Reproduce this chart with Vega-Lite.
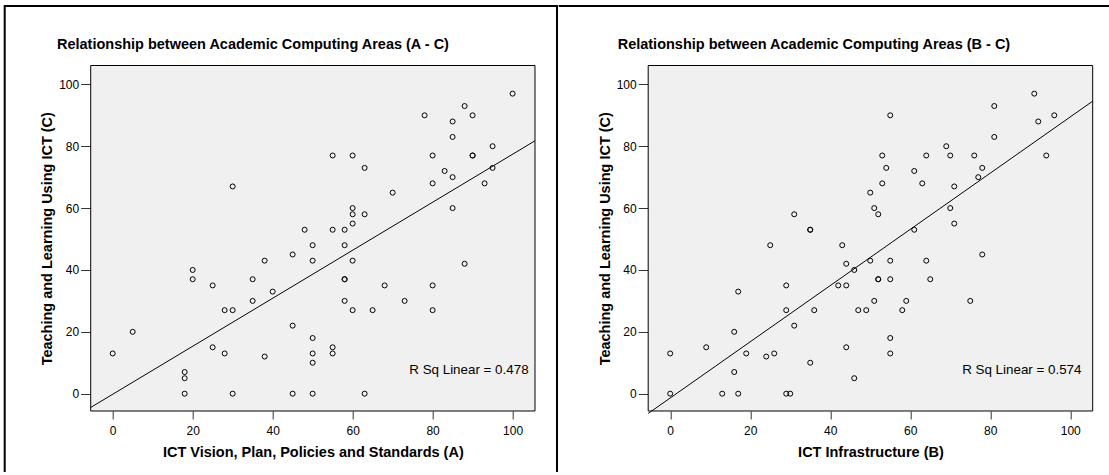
{
  "$schema": "https://vega.github.io/schema/vega-lite/v6.json",
  "background": "white",
  "autosize": {"type": "pad"},
  "padding": {"left": 3.7, "top": 5, "right": 0, "bottom": 0},
  "spacing": -2,
  "config": {
    "view": {"stroke": "black", "strokeWidth": 2, "fill": "white"},
    "font": "Liberation Sans"
  },
  "datasets": {
    "ac": [
      {"A":0,"C":13},{"A":5,"C":20},{"A":18,"C":7},{"A":18,"C":5},{"A":18,"C":0},{"A":20,"C":40},{"A":20,"C":37},{"A":25,"C":35},{"A":25,"C":15},{"A":28,"C":27},
      {"A":28,"C":13},{"A":30,"C":67},{"A":30,"C":27},{"A":30,"C":0},{"A":35,"C":37},{"A":35,"C":30},{"A":38,"C":43},{"A":38,"C":12},{"A":40,"C":33},{"A":45,"C":45},
      {"A":45,"C":22},{"A":45,"C":0},{"A":48,"C":53},{"A":50,"C":48},{"A":50,"C":43},{"A":50,"C":18},{"A":50,"C":13},{"A":50,"C":10},{"A":50,"C":0},{"A":55,"C":77},
      {"A":55,"C":53},{"A":55,"C":15},{"A":55,"C":13},{"A":58,"C":53},{"A":58,"C":48},{"A":58,"C":37},{"A":58,"C":37},{"A":58,"C":30},{"A":60,"C":77},{"A":60,"C":60},
      {"A":60,"C":58},{"A":60,"C":55},{"A":60,"C":43},{"A":60,"C":27},{"A":63,"C":73},{"A":63,"C":58},{"A":63,"C":0},{"A":65,"C":27},{"A":68,"C":35},{"A":70,"C":65},
      {"A":73,"C":30},{"A":78,"C":90},{"A":80,"C":77},{"A":80,"C":68},{"A":80,"C":35},{"A":80,"C":27},{"A":83,"C":72},{"A":85,"C":88},{"A":85,"C":83},{"A":85,"C":70},
      {"A":85,"C":60},{"A":88,"C":93},{"A":88,"C":42},{"A":90,"C":90},{"A":90,"C":77},{"A":90,"C":77},{"A":93,"C":68},{"A":95,"C":80},{"A":95,"C":73},{"A":100,"C":97}
    ],
    "bc": [
      {"B":0,"C":13},{"B":0,"C":0},{"B":9,"C":15},{"B":13,"C":0},{"B":16,"C":20},{"B":16,"C":7},{"B":17,"C":33},{"B":17,"C":0},{"B":19,"C":13},{"B":24,"C":12},
      {"B":25,"C":48},{"B":26,"C":13},{"B":29,"C":35},{"B":29,"C":27},{"B":29,"C":0},{"B":30,"C":0},{"B":31,"C":58},{"B":31,"C":22},{"B":35,"C":53},{"B":35,"C":53},
      {"B":35,"C":10},{"B":36,"C":27},{"B":42,"C":35},{"B":43,"C":48},{"B":44,"C":42},{"B":44,"C":35},{"B":44,"C":15},{"B":46,"C":40},{"B":46,"C":5},{"B":47,"C":27},
      {"B":49,"C":27},{"B":50,"C":65},{"B":50,"C":43},{"B":51,"C":60},{"B":51,"C":30},{"B":52,"C":58},{"B":52,"C":37},{"B":52,"C":37},{"B":53,"C":77},{"B":53,"C":68},
      {"B":54,"C":73},{"B":55,"C":90},{"B":55,"C":43},{"B":55,"C":37},{"B":55,"C":18},{"B":55,"C":13},{"B":58,"C":27},{"B":59,"C":30},{"B":61,"C":72},{"B":61,"C":53},
      {"B":63,"C":68},{"B":64,"C":77},{"B":64,"C":43},{"B":65,"C":37},{"B":69,"C":80},{"B":70,"C":77},{"B":70,"C":60},{"B":71,"C":67},{"B":71,"C":55},{"B":75,"C":30},
      {"B":76,"C":77},{"B":77,"C":70},{"B":78,"C":73},{"B":78,"C":45},{"B":81,"C":93},{"B":81,"C":83},{"B":91,"C":97},{"B":92,"C":88},{"B":94,"C":77},{"B":96,"C":90}
    ]
  },
  "hconcat": [
    {
      "width": 552.3,
      "height": 466,
      "view": {"stroke": "black", "strokeWidth": 2, "fill": "white", "strokeDash": [1018.3, 552.3, 1000]},
      "title": {"text": "Relationship between Academic Computing Areas (A - C)", "anchor": "start", "frame": "group", "orient": "top", "offset": 0, "baseline": "alphabetic", "dx": 52.3, "dy": 57, "fontSize": 14.5, "fontWeight": "bold", "font": "Liberation Sans", "color": "black"},
      "data": {"name": "ac"},
      "layer": [
        {
          "data": {"values": [{}]},
          "mark": {"type": "rect", "fill": "#f0f0f0", "stroke": "black", "strokeWidth": 1},
          "encoding": {
            "x": {"datum": -5.5, "type": "quantitative", "scale": {"domain": [-5.5, 105.6], "range": [86, 530.3], "nice": false, "zero": false}},
            "x2": {"datum": 105.6},
            "y": {"datum": -5.6, "type": "quantitative", "scale": {"domain": [-5.6, 106.1], "range": [405, 59.5], "nice": false, "zero": false}},
            "y2": {"datum": 106.1}
          }
        },
        {
          "mark": {"type": "point", "shape": "circle", "filled": false, "stroke": "black", "strokeWidth": 1, "size": 25, "opacity": 1},
          "encoding": {
            "x": {"field": "A", "type": "quantitative", "scale": {"domain": [-5.5, 105.6], "range": [86, 530.3], "nice": false, "zero": false},
              "axis": {"title": "ICT Vision, Plan, Policies and Standards (A)", "values": [0, 20, 40, 60, 80, 100], "offset": -61, "domain": false, "grid": false, "tickSize": 8, "tickColor": "#333333", "tickWidth": 1, "labelFlush": false, "labelFont": "Liberation Sans", "labelFontSize": 12, "labelColor": "black", "labelPadding": 7, "titleFont": "Liberation Sans", "titleFontSize": 14.5, "titleFontWeight": "bold", "titleColor": "black", "titlePadding": 9}},
            "y": {"field": "C", "type": "quantitative", "scale": {"domain": [-5.6, 106.1], "range": [405, 59.5], "nice": false, "zero": false},
              "axis": {"title": "Teaching and Learning Using ICT (C)", "values": [0, 20, 40, 60, 80, 100], "offset": -86, "domain": false, "grid": false, "tickSize": 10, "tickColor": "#333333", "tickWidth": 1, "labelFlush": false, "labelFont": "Liberation Sans", "labelFontSize": 12, "labelColor": "black", "labelPadding": 2, "titleFont": "Liberation Sans", "titleFontSize": 14.5, "titleFontWeight": "bold", "titleColor": "black", "titlePadding": 4}}
          }
        },
        {
          "transform": [{"regression": "C", "on": "A", "extent": [-5.5, 105.6]}],
          "mark": {"type": "line", "color": "black", "strokeWidth": 1},
          "encoding": {
            "x": {"field": "A", "type": "quantitative", "scale": {"domain": [-5.5, 105.6], "range": [86, 530.3], "nice": false, "zero": false}},
            "y": {"field": "C", "type": "quantitative", "scale": {"domain": [-5.6, 106.1], "range": [405, 59.5], "nice": false, "zero": false}}
          }
        },
        {
          "data": {"values": [{"label": "R Sq Linear = 0.478"}]},
          "mark": {"type": "text", "align": "right", "baseline": "middle", "fontSize": 13.4, "font": "Liberation Sans", "color": "black"},
          "encoding": {
            "x": {"datum": 104, "type": "quantitative"},
            "y": {"datum": 7.66, "type": "quantitative"},
            "text": {"field": "label"}
          }
        }
      ]
    },
    {
      "width": 550,
      "height": 466,
      "view": {"stroke": "black", "strokeWidth": 2, "fill": "white", "strokeDash": [551, 5000]},
      "title": {"text": "Relationship between Academic Computing Areas (B - C)", "anchor": "start", "frame": "group", "orient": "top", "offset": 0, "baseline": "alphabetic", "dx": 59, "dy": 57, "fontSize": 14.5, "fontWeight": "bold", "font": "Liberation Sans", "color": "black"},
      "data": {"name": "bc"},
      "layer": [
        {
          "data": {"values": [{}]},
          "mark": {"type": "rect", "fill": "#f0f0f0", "stroke": "black", "strokeWidth": 1},
          "encoding": {
            "x": {"datum": -5.5, "type": "quantitative", "scale": {"domain": [-5.5, 105.6], "range": [89.5, 534], "nice": false, "zero": false}},
            "x2": {"datum": 105.6},
            "y": {"datum": -5.6, "type": "quantitative", "scale": {"domain": [-5.6, 106.1], "range": [405, 59.5], "nice": false, "zero": false}},
            "y2": {"datum": 106.1}
          }
        },
        {
          "mark": {"type": "point", "shape": "circle", "filled": false, "stroke": "black", "strokeWidth": 1, "size": 25, "opacity": 1},
          "encoding": {
            "x": {"field": "B", "type": "quantitative", "scale": {"domain": [-5.5, 105.6], "range": [89.5, 534], "nice": false, "zero": false},
              "axis": {"title": "ICT Infrastructure (B)", "values": [0, 20, 40, 60, 80, 100], "offset": -61, "domain": false, "grid": false, "tickSize": 8, "tickColor": "#333333", "tickWidth": 1, "labelFlush": false, "labelFont": "Liberation Sans", "labelFontSize": 12, "labelColor": "black", "labelPadding": 7, "titleFont": "Liberation Sans", "titleFontSize": 14.5, "titleFontWeight": "bold", "titleColor": "black", "titlePadding": 9}},
            "y": {"field": "C", "type": "quantitative", "scale": {"domain": [-5.6, 106.1], "range": [405, 59.5], "nice": false, "zero": false},
              "axis": {"title": "Teaching and Learning Using ICT (C)", "values": [0, 20, 40, 60, 80, 100], "offset": -89.5, "domain": false, "grid": false, "tickSize": 10, "tickColor": "#333333", "tickWidth": 1, "labelFlush": false, "labelFont": "Liberation Sans", "labelFontSize": 12, "labelColor": "black", "labelPadding": 2, "titleFont": "Liberation Sans", "titleFontSize": 14.5, "titleFontWeight": "bold", "titleColor": "black", "titlePadding": 4}}
          }
        },
        {
          "transform": [{"regression": "C", "on": "B", "extent": [-5.5, 105.6]}],
          "mark": {"type": "line", "color": "black", "strokeWidth": 1},
          "encoding": {
            "x": {"field": "B", "type": "quantitative", "scale": {"domain": [-5.5, 105.6], "range": [89.5, 534], "nice": false, "zero": false}},
            "y": {"field": "C", "type": "quantitative", "scale": {"domain": [-5.6, 106.1], "range": [405, 59.5], "nice": false, "zero": false}}
          }
        },
        {
          "data": {"values": [{"label": "R Sq Linear = 0.574"}]},
          "mark": {"type": "text", "align": "right", "baseline": "middle", "fontSize": 13.4, "font": "Liberation Sans", "color": "black"},
          "encoding": {
            "x": {"datum": 102.8, "type": "quantitative"},
            "y": {"datum": 7.66, "type": "quantitative"},
            "text": {"field": "label"}
          }
        }
      ]
    }
  ]
}
